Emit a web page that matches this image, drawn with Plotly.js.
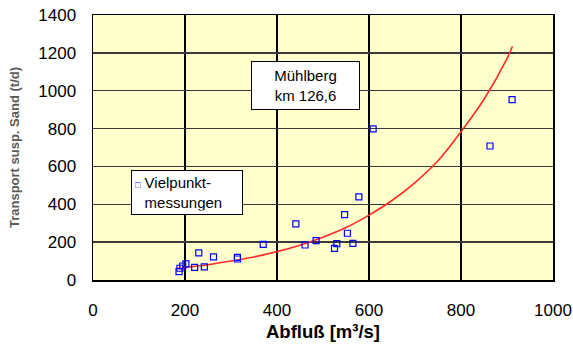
<!DOCTYPE html>
<html><head><meta charset="utf-8">
<script src="https://cdn.plot.ly/plotly-3.0.1.min.js"></script>
<style>html,body{margin:0;padding:0;background:#fff}#c{width:573px;height:347px}</style>
</head><body><div id="c"></div>
<script>
const measX = [187, 189, 195, 202, 221, 242, 230, 262, 314, 314, 370, 441, 461, 485, 525, 530, 547, 553, 565, 578, 609, 863, 911];
const measY = [44, 62, 74, 85, 67, 69, 143, 122, 120, 111, 188, 296, 185, 208, 167, 192, 345, 247, 194, 439, 798, 708, 953];
const fitX = [180, 200, 250, 300, 350, 400, 450, 500, 550, 600, 650, 700, 750, 800, 850, 900, 912];
const fitY = [61, 66, 81, 100, 122, 150, 184, 226, 277, 343, 420, 515, 630, 783, 955, 1170, 1235];
const xTicks = [0, 200, 400, 600, 800, 1000];
const yTicks = [0, 200, 400, 600, 800, 1000, 1200, 1400];
const seriesName = 'Vielpunkt-<br>messungen';

const traces = [
  {x: fitX, y: fitY, mode: 'lines', line: {color: '#FF2A2A', width: 1.6, shape: 'spline'}, showlegend: false, hoverinfo: 'skip'},
  {x: measX, y: measY, mode: 'markers', name: seriesName, showlegend: false,
   marker: {symbol: 'square-open', size: 6, color: '#0000FF', line: {width: 1.2}}}
];
const sq = "<span style='font-size:9px;color:#0000FF'>□</span>";
const sqHidden = "<span style='font-size:9px;color:rgba(0,0,0,0)'>□</span>";
const layout = {
  width: 573, height: 347,
  margin: {l: 93, r: 20, t: 15, b: 67},
  paper_bgcolor: '#ffffff', plot_bgcolor: '#FFFFCC',
  font: {family: 'Liberation Sans, Arial, sans-serif', color: '#000', size: 17},
  xaxis: {range: [0, 1000], tickvals: xTicks, ticktext: xTicks.map(String),
    showgrid: true, gridcolor: '#000', gridwidth: 1.5, zeroline: false,
    showline: true, linecolor: '#000', linewidth: 1.5, mirror: true, ticks: '',
    ticklabelstandoff: 14,
    title: {text: '<b>Abfluß [m³/s]</b>', font: {size: 18.5}, standoff: 6}},
  yaxis: {range: [0, 1400], tickvals: yTicks, ticktext: yTicks.map(String),
    showgrid: true, gridcolor: '#3a3a3a', gridwidth: 1.5, zeroline: false,
    showline: true, linecolor: '#000', linewidth: 1.5, mirror: true, ticks: '',
    ticklabelstandoff: 12,
    title: {text: '<b>Transport susp. Sand (t/d)</b>', font: {size: 13, color: '#5a5a5a'}, standoff: 15}},
  showlegend: false,
  annotations: [
    {x: 462, y: 1030, xref: 'x', yref: 'y', text: 'Mühlberg<br>km 126,6', showarrow: false, width: 97,
     bgcolor: '#ffffff', bordercolor: '#000', borderwidth: 1, borderpad: 5, font: {size: 15}, align: 'center'},
    {x: 187, y: 192, xref: 'paper', yref: 'paper', xanchor: 'center', yanchor: 'middle',
     text: sq + ' ' + seriesName.split('<br>')[0] + '<br>' + sqHidden + ' ' + seriesName.split('<br>')[1],
     showarrow: false, align: 'left', width: 104,
     bgcolor: '#ffffff', bordercolor: '#000', borderwidth: 1, borderpad: 3, font: {size: 15}}
  ]
};
// position legend box via pixel -> paper conversion
const pw = 573 - 93 - 20, ph = 347 - 15 - 67;
layout.annotations[1].x = (187 - 93) / pw;
layout.annotations[1].y = (280 - 192) / ph;
Plotly.newPlot('c', traces, layout, {displayModeBar: false, staticPlot: true});
</script></body></html>
